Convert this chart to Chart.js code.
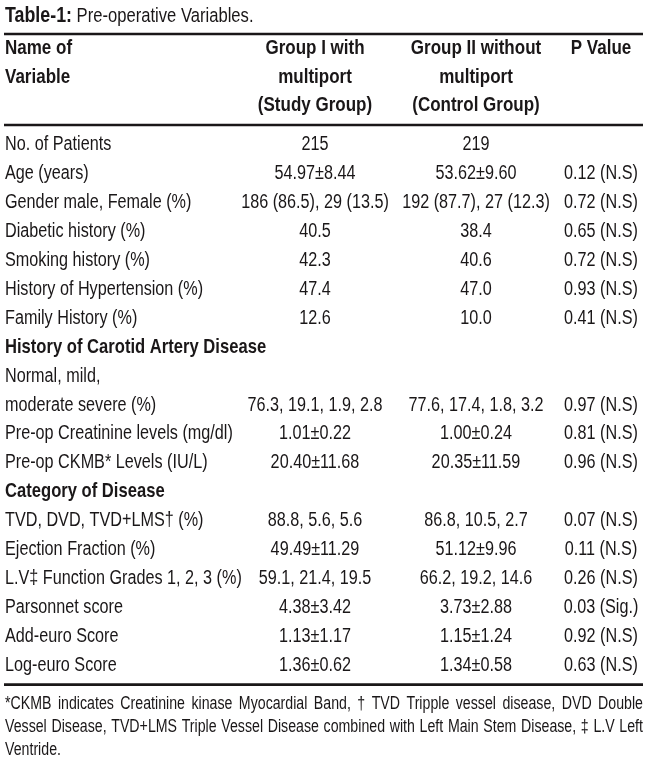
<!DOCTYPE html>
<html>
<head>
<meta charset="utf-8">
<script src="https://cdn.jsdelivr.net/npm/chart.js@4.4.1/dist/chart.umd.min.js"></script>
<style>
  html, body { margin: 0; padding: 0; background: #fff; }
  #wrap { width: 650px; height: 768px; }
</style>
</head>
<body>
<div id="wrap"><canvas id="tableChart" width="650" height="768"></canvas></div>
<script>
// Table data
const rowLabels = [
    'No. of Patients',
    'Age (years)',
    'Gender male, Female (%)',
    'Diabetic history (%)',
    'Smoking history (%)',
    'History of Hypertension (%)',
    'Family History (%)',
    'History of Carotid Artery Disease',
    'Normal, mild,',
    'moderate severe (%)',
    'Pre-op Creatinine levels (mg/dl)',
    'Pre-op CKMB* Levels (IU/L)',
    'Category of Disease',
    'TVD, DVD, TVD+LMS\u2020 (%)',
    'Ejection Fraction (%)',
    'L.V\u2021 Function Grades 1, 2, 3 (%)',
    'Parsonnet score',
    'Add-euro Score',
    'Log-euro Score'
];
const groupI = [
    '215', '54.97\u00b18.44', '186 (86.5), 29 (13.5)', '40.5', '42.3', '47.4', '12.6',
    '', '', '76.3, 19.1, 1.9, 2.8', '1.01\u00b10.22', '20.40\u00b111.68',
    '', '88.8, 5.6, 5.6', '49.49\u00b111.29', '59.1, 21.4, 19.5', '4.38\u00b13.42',
    '1.13\u00b11.17', '1.36\u00b10.62'
];
const groupII = [
    '219', '53.62\u00b19.60', '192 (87.7), 27 (12.3)', '38.4', '40.6', '47.0', '10.0',
    '', '', '77.6, 17.4, 1.8, 3.2', '1.00\u00b10.24', '20.35\u00b111.59',
    '', '86.8, 10.5, 2.7', '51.12\u00b19.96', '66.2, 19.2, 14.6', '3.73\u00b12.88',
    '1.15\u00b11.24', '1.34\u00b10.58'
];
const pValues = [
    '', '0.12 (N.S)', '0.72 (N.S)', '0.65 (N.S)', '0.72 (N.S)', '0.93 (N.S)', '0.41 (N.S)',
    '', '', '0.97 (N.S)', '0.81 (N.S)', '0.96 (N.S)',
    '', '0.07 (N.S)', '0.11 (N.S)', '0.26 (N.S)', '0.03 (Sig.)',
    '0.92 (N.S)', '0.63 (N.S)'
];
const sectionRows = ['History of Carotid Artery Disease', 'Category of Disease'];
const nameHeader = ['Name of', 'Variable'];
const columnHeaders = [
    ['Group I with', 'multiport', '(Study Group)'],
    ['Group II without', 'multiport', '(Control Group)'],
    ['P Value']
];
const titleBold = 'Table-1:';
const titleText = ' Pre-operative Variables.';
const footnoteLines = [
    '*CKMB indicates Creatinine kinase Myocardial Band, \u2020 TVD Tripple vessel disease, DVD Double',
    'Vessel Disease, TVD+LMS Triple Vessel Disease combined with Left Main Stem Disease, \u2021 L.V Left',
    'Ventride.'
];

// Layout settings (pixels)
const FONT = '"Liberation Sans", Arial, sans-serif';
const SQUEEZE = 0.81; // horizontal scale to get a condensed look
const TEXT_COLOR = '#1a1718';
const colCenters = [315, 476, 601];
const nameX = 5;
const ruleLeft = 4;
const ruleRight = 643;

function font(weight, size) {
    return `${weight} ${size}px ${FONT}`;
}

// Condensed text: squeeze horizontally around the anchor point
function drawText(ctx, text, x, y, align) {
    ctx.save();
    ctx.textAlign = align;
    ctx.translate(x, y);
    ctx.scale(SQUEEZE, 1);
    ctx.fillText(text, 0, 0);
    ctx.restore();
}

function textWidth(ctx, text) {
    return ctx.measureText(text).width * SQUEEZE;
}

// Line of text spread to a given width
function drawJustified(ctx, text, x, y, width) {
    const words = text.split(' ');
    const wordsWidth = words.reduce((s, w) => s + textWidth(ctx, w), 0);
    const gap = (width - wordsWidth) / (words.length - 1);
    let cx = x;
    words.forEach(w => {
        drawText(ctx, w, cx, y, 'left');
        cx += textWidth(ctx, w) + gap;
    });
}

const tablePlugin = {
    id: 'tableText',
    afterDraw(chart) {
        const { ctx, chartArea, scales } = chart;
        const xs = scales.x;
        const ys = scales.y;
        ctx.save();
        ctx.fillStyle = TEXT_COLOR;
        ctx.strokeStyle = TEXT_COLOR;
        ctx.textBaseline = 'middle';

        // Title
        ctx.font = font('bold', 22);
        drawText(ctx, titleBold, nameX, 16, 'left');
        const tw = textWidth(ctx, titleBold);
        ctx.font = font('normal', 20.5);
        drawText(ctx, titleText, nameX + tw, 16, 'left');

        // Rules
        ctx.lineWidth = 2.6;
        [34, 125, chartArea.bottom + 5].forEach(ry => {
            ctx.beginPath();
            ctx.moveTo(ruleLeft, ry);
            ctx.lineTo(ruleRight, ry);
            ctx.stroke();
        });

        // Header
        const headerY = [48, 77, 105];
        ctx.font = font('bold', 21);
        nameHeader.forEach((t, i) => drawText(ctx, t, nameX, headerY[i], 'left'));
        columnHeaders.forEach((lines, c) => {
            const cx = xs.getPixelForValue(colCenters[c]);
            lines.forEach((t, i) => drawText(ctx, t, cx, headerY[i], 'center'));
        });

        // Body rows
        const columns = [groupI, groupII, pValues];
        rowLabels.forEach((label, i) => {
            const py = ys.getPixelForValue(i);
            const isSection = sectionRows.includes(label);
            ctx.font = isSection ? font('bold', 20.5) : font('normal', 20);
            drawText(ctx, label, nameX, py, 'left');
            ctx.font = font('normal', 20);
            columns.forEach((col, c) => {
                if (col[i]) drawText(ctx, col[i], xs.getPixelForValue(colCenters[c]), py, 'center');
            });
        });

        // Footnote
        ctx.font = font('normal', 17.5);
        const footY = [704, 727, 750];
        footnoteLines.forEach((t, i) => {
            if (i < footnoteLines.length - 1) {
                drawJustified(ctx, t, nameX, footY[i], ruleRight - nameX);
            } else {
                drawText(ctx, t, nameX, footY[i], 'left');
            }
        });
        ctx.restore();
    }
};

const chart = new Chart(document.getElementById('tableChart').getContext('2d'), {
    type: 'scatter',
    data: { datasets: [] },
    options: {
        responsive: false,
        animation: false,
        layout: { padding: { top: 130.5, bottom: 88.4, left: 0, right: 0 } },
        plugins: { legend: { display: false }, tooltip: { enabled: false } },
        scales: {
            x: { type: 'linear', min: 0, max: 650, display: false },
            y: { type: 'category', labels: rowLabels, offset: true, display: false }
        }
    },
    plugins: [tablePlugin]
});
</script>
</body>
</html>
